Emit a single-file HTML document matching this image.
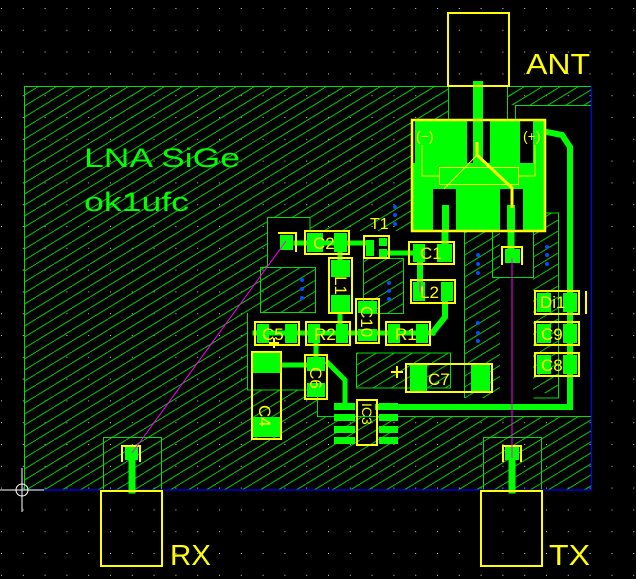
<!DOCTYPE html>
<html><head><meta charset="utf-8"><style>
html,body{margin:0;padding:0;background:#000;}
svg{display:block;}
text{font-family:"Liberation Sans",sans-serif;}
</style></head><body>
<svg width="636" height="579" viewBox="0 0 636 579" xmlns="http://www.w3.org/2000/svg">
<defs>
<pattern id="grid" width="21.8" height="21.8" patternUnits="userSpaceOnUse" x="1" y="8">
<rect x="0" y="0" width="1" height="1" fill="#ccc"/>
</pattern>
<pattern id="hatch" width="18" height="11" patternUnits="userSpaceOnUse">
<line x1="0" y1="11" x2="18" y2="0" stroke="#00c800" stroke-width="1"/>
</pattern>
</defs>
<rect width="636" height="579" fill="#000"/>
<rect width="636" height="579" fill="url(#grid)"/>
<rect x="24" y="87" width="568" height="403" fill="url(#hatch)"/>
<polygon points="267,217 310,217 310,231 412,231 412,120 448,120 448,87 507,87 507,105 592,105 592,416 317,416 317,390 247,390 247,313 267,313" fill="#000"/>
<rect x="260" y="267" width="55" height="45" fill="url(#hatch)"/>
<rect x="363" y="258" width="40" height="55" fill="url(#hatch)"/>
<rect x="464" y="231" width="36" height="167" fill="url(#hatch)"/>
<rect x="533" y="213" width="25" height="180" fill="url(#hatch)"/>
<rect x="356" y="353" width="94" height="35" fill="url(#hatch)"/>
<rect x="507" y="87" width="8" height="18" fill="url(#hatch)"/>
<g fill="none" stroke="#00e000" stroke-width="1">
<line x1="24" y1="86.5" x2="592" y2="86.5"/>
<line x1="24.5" y1="86" x2="24.5" y2="490"/>
<polyline points="267.5,267 267.5,217.5 310,217.5 310,231"/>
<rect x="260.5" y="267.5" width="55" height="45"/>
<rect x="363.5" y="258.5" width="40" height="55"/>
<polyline points="464.5,398 464.5,231"/>
<polyline points="533.5,398 558.5,398 558.5,213 533,213"/>
<rect x="492.5" y="231.5" width="41" height="46"/>
<polyline points="356.5,353 450.5,353 450.5,388 356.5,388 356.5,353"/>
<polyline points="247.5,313 247.5,390 317.5,390 317.5,416.5 592,416.5"/>
<polyline points="515.5,120 515.5,105.5 592,105.5"/>
<line x1="448.5" y1="86" x2="448.5" y2="120"/>
<line x1="507.5" y1="86" x2="507.5" y2="120"/>
<rect x="103.5" y="437.5" width="58" height="53"/>
<rect x="483.5" y="437.5" width="58" height="53"/>
</g>
<g stroke="#0000ff" stroke-width="1.2">
<line x1="591.5" y1="86" x2="591.5" y2="490"/>
<line x1="24" y1="490" x2="592" y2="490"/>
</g>
<g stroke="#fff" stroke-width="1" fill="none">
<circle cx="22" cy="490" r="6"/>
<line x1="0" y1="490" x2="44" y2="490"/>
<line x1="22" y1="468" x2="22" y2="512"/>
</g>
<g stroke="#00ff00" fill="none" stroke-linecap="square">
<line x1="478" y1="86" x2="478" y2="120" stroke-width="10"/>
<line x1="296" y1="243" x2="364" y2="243" stroke-width="5"/>
<line x1="389" y1="253" x2="412" y2="253" stroke-width="5"/>
<line x1="340" y1="254" x2="340" y2="260" stroke-width="5"/>
<line x1="420" y1="264" x2="420" y2="280" stroke-width="6"/>
<polyline points="445,303 445,317 433,332" stroke-width="6"/>
<line x1="255" y1="333" x2="433" y2="333" stroke-width="5"/>
<line x1="340" y1="313" x2="340" y2="322" stroke-width="5"/>
<line x1="316" y1="345" x2="316" y2="355" stroke-width="5"/>
<line x1="281" y1="365" x2="305" y2="365" stroke-width="5"/>
<polyline points="328,363 345,380 345,405" stroke-width="5"/>
<polyline points="378,407 570,407 570,147 562,135 547,132" stroke-width="6"/>
<line x1="445" y1="231" x2="445" y2="242" stroke-width="7"/>
<line x1="511" y1="231" x2="511" y2="249" stroke-width="7"/>
<line x1="132" y1="460" x2="132" y2="490" stroke-width="7"/>
<line x1="512" y1="460" x2="512" y2="490" stroke-width="7"/>
</g>
<rect x="412" y="120" width="133" height="111" fill="#00ff00"/>
<rect x="467" y="120" width="23" height="43" fill="#000"/>
<rect x="473" y="120" width="10" height="43" fill="#00ff00"/>
<rect x="520" y="120" width="13" height="43" fill="#000"/>
<rect x="412" y="120" width="3" height="43" fill="#000"/>
<rect x="433" y="189" width="23" height="42" fill="#000"/>
<rect x="442" y="205" width="7" height="26" fill="#00ff00"/>
<rect x="500" y="189" width="23" height="42" fill="#000"/>
<rect x="507" y="205" width="8" height="26" fill="#00ff00"/>
<g fill="none" stroke="#ffff00">
<rect x="412" y="120" width="133" height="111" stroke-width="2.5"/>
<rect x="439.5" y="167.5" width="79" height="17" stroke-width="1"/>
<polyline points="422,145 422,176 439,176" stroke-width="1"/>
<polyline points="535,145 535,176 518,176" stroke-width="1"/>
<polyline points="477,142 477,155 512,188 512,208" stroke-width="3"/>
<line x1="477" y1="155" x2="444" y2="189" stroke-width="1"/>
</g>
<text x="416" y="141" fill="#ffff00" font-size="14">(−)</text>
<text x="523" y="141" fill="#ffff00" font-size="14">(+)</text>
<g fill="#00ff00">
<rect x="280" y="235" width="13" height="15"/>
<rect x="307" y="233" width="16" height="19"/><rect x="334" y="233" width="13" height="19"/>
<rect x="366" y="240" width="8" height="16"/><rect x="379" y="238" width="8" height="8"/><rect x="379" y="249" width="8" height="8"/>
<rect x="413" y="244" width="12" height="18"/><rect x="437" y="244" width="15" height="18"/>
<rect x="331" y="260" width="19" height="17"/><rect x="331" y="295" width="19" height="17"/>
<rect x="413" y="282" width="12" height="19"/><rect x="441" y="282" width="12" height="19"/>
<rect x="358" y="301" width="19" height="12"/><rect x="358" y="329" width="19" height="12"/>
<rect x="388" y="324" width="12" height="19"/><rect x="416" y="324" width="12" height="19"/>
<rect x="308" y="324" width="12" height="19"/><rect x="336" y="324" width="12" height="19"/>
<rect x="257" y="324" width="12" height="19"/><rect x="285" y="324" width="12" height="19"/>
<rect x="307" y="357" width="18" height="14"/><rect x="307" y="383" width="18" height="14"/>
<rect x="253" y="353" width="28" height="20"/><rect x="253" y="417" width="28" height="20"/>
<rect x="410" y="365" width="17" height="26"/><rect x="471" y="365" width="19" height="26"/>
<rect x="537" y="293" width="14" height="19"/><rect x="563" y="293" width="14" height="19"/>
<rect x="537" y="324" width="14" height="19"/><rect x="563" y="324" width="14" height="19"/>
<rect x="537" y="355" width="14" height="19"/><rect x="563" y="355" width="14" height="19"/>
<rect x="505" y="249" width="15" height="14"/>
<rect x="125" y="447" width="13" height="13"/>
<rect x="505" y="447" width="14" height="13"/>
<rect x="334" y="403" width="21" height="7"/><rect x="334" y="414" width="21" height="7"/><rect x="334" y="426" width="21" height="7"/><rect x="334" y="437" width="21" height="7"/>
<rect x="379" y="403" width="19" height="7"/><rect x="379" y="414" width="19" height="7"/><rect x="379" y="426" width="19" height="7"/><rect x="379" y="437" width="19" height="7"/>
</g>
<g fill="none" stroke="#ffff00" stroke-width="2">
<rect x="448" y="13" width="61" height="73"/>
<rect x="101" y="491" width="61" height="75"/>
<rect x="481" y="491" width="61" height="75"/>
<polyline points="278,233 296,233 296,252"/>
<rect x="305" y="231" width="44" height="23"/>
<rect x="364" y="236" width="25" height="22"/>
<rect x="409" y="242" width="45" height="22"/>
<rect x="329" y="258" width="23" height="55"/>
<rect x="411" y="280" width="44" height="23"/>
<rect x="356" y="299" width="23" height="44"/>
<rect x="386" y="322" width="44" height="23"/>
<rect x="306" y="322" width="44" height="23"/>
<rect x="255" y="322" width="44" height="23"/>
<rect x="305" y="355" width="22" height="44"/>
<rect x="252" y="352" width="29" height="87"/>
<rect x="406" y="364" width="86" height="28"/>
<rect x="535" y="291" width="44" height="23"/>
<rect x="535" y="322" width="44" height="23"/>
<rect x="535" y="353" width="44" height="23"/>
<rect x="357" y="400" width="20" height="45"/>
<polyline points="502,265 502,247 522,247 522,265"/>
<polyline points="122,462 122,446 140,446 140,462"/>
<polyline points="503,462 503,446 521,446 521,462"/>
<line x1="586" y1="291" x2="586" y2="314"/>
<path d="M269,343 h10 M274,338 v10 M391,372 h12 M397,366 v12"/>
</g>
<g stroke="#ff00ff" stroke-width="1">
<line x1="132" y1="453" x2="286" y2="241"/>
<line x1="512" y1="258" x2="512" y2="458"/>
<line x1="420" y1="282" x2="420" y2="292"/>
</g>
<g fill="#0050ff">
<circle cx="395" cy="207" r="2"/><circle cx="395" cy="215" r="2"/><circle cx="395" cy="224" r="2"/>
<circle cx="389" cy="283" r="2"/><circle cx="389" cy="291" r="2"/><circle cx="389" cy="299" r="2"/>
<circle cx="302" cy="280" r="2"/><circle cx="302" cy="289" r="2"/><circle cx="302" cy="298" r="2"/>
<circle cx="478" cy="255" r="2"/><circle cx="478" cy="264" r="2"/><circle cx="478" cy="273" r="2"/>
<circle cx="478" cy="323" r="2"/><circle cx="478" cy="333" r="2"/><circle cx="478" cy="341" r="2"/>
<circle cx="547" cy="247" r="2"/><circle cx="547" cy="255" r="2"/><circle cx="547" cy="264" r="2"/>
</g>
<g fill="#ffff00" font-size="17">
<text x="313" y="249">C2</text>
<text x="370" y="229" font-size="16">T1</text>
<text x="420" y="259">C1</text>
<text x="420" y="298">L2</text>
<text x="395" y="340">R1</text>
<text x="314" y="340">R2</text>
<text x="262" y="340">C5</text>
<text x="540" y="308">Di1</text>
<text x="541" y="340">C9</text>
<text x="541" y="371">C8</text>
<text x="428" y="385">C7</text>
<text transform="translate(335,276) rotate(90)">L1</text>
<text transform="translate(361,306) rotate(90)">C10</text>
<text transform="translate(310,367) rotate(90)">C6</text>
<text transform="translate(259,405) rotate(90)">C4</text>
<text transform="translate(362,403) rotate(90)" font-size="14">IC3</text>
</g>
<g fill="#ffff00" font-size="29">
<text x="526" y="74" textLength="64" lengthAdjust="spacingAndGlyphs">ANT</text>
<text x="170" y="565" textLength="41" lengthAdjust="spacingAndGlyphs">RX</text>
<text x="549" y="565" textLength="41" lengthAdjust="spacingAndGlyphs">TX</text>
</g>
<g fill="#00ff00" font-size="27">
<text x="84" y="167" textLength="156" lengthAdjust="spacingAndGlyphs">LNA SiGe</text>
<text x="84" y="211" textLength="105" lengthAdjust="spacingAndGlyphs">ok1ufc</text>
</g>
</svg>
</body></html>
